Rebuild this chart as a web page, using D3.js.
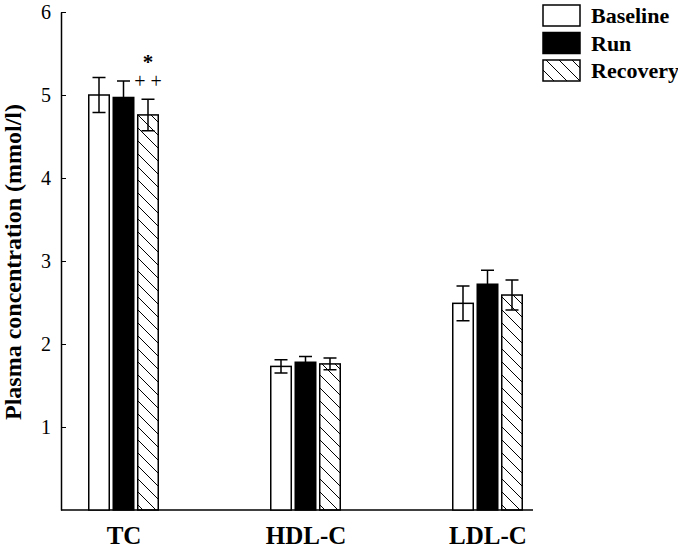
<!DOCTYPE html>
<html>
<head>
<meta charset="utf-8">
<script src="https://cdn.jsdelivr.net/npm/d3@7"></script>
<style>
  body { margin: 0; background: #fff; }
  text { font-family: "Liberation Serif", "Times New Roman", serif; }
</style>
</head>
<body>
<div id="chart"></div>
<script>
// data
const categories = ["TC", "HDL-C", "LDL-C"];
const series = ["Baseline", "Run", "Recovery"];
const baseline = [5.00, 1.73, 2.49];
const run = [4.97, 1.78, 2.72];
const recovery = [4.76, 1.76, 2.59];
const baselineErr = [0.21, 0.08, 0.21];
const runErr = [0.20, 0.07, 0.17];
const recoveryErr = [0.19, 0.07, 0.18];
const yTicks = [1, 2, 3, 4, 5, 6];

const values = [baseline, run, recovery];
const errors = [baselineErr, runErr, recoveryErr];

const margin = {top: 12, right: 145, bottom: 40, left: 61},
      width = 678 - margin.left - margin.right,
      height = 510 - margin.top;

const svg = d3.select("#chart")
    .append("svg")
    .attr("width", 678)
    .attr("height", 550);

// hatch for Recovery
const defs = svg.append("defs");
defs.append("pattern")
    .attr("id", "hatch")
    .attr("patternUnits", "userSpaceOnUse")
    .attr("width", 13)
    .attr("height", 13)
  .append("path")
    .attr("d", "M0,0L13,13M-2,11L2,15M11,-2L15,2")
    .attr("stroke", "#000")
    .attr("stroke-width", 1);

const fills = ["#fff", "#000", "url(#hatch)"];

const g = svg.append("g")
    .attr("transform", `translate(${margin.left}, ${margin.top})`);

const x = d3.scalePoint()
    .domain(categories)
    .range([62.5, 426.5]);

const xInner = d3.scaleBand()
    .domain(series)
    .range([-34.75, 34.75])
    .paddingInner(0.163);

const y = d3.scaleLinear()
    .domain([0, 6])
    .range([height, 0]);

// Y axis
const yAxis = g.append("g")
    .call(d3.axisLeft(y).tickValues(yTicks).tickFormat(d3.format("d"))
        .tickSizeInner(-5).tickSizeOuter(0).tickPadding(10));
yAxis.select(".domain").attr("stroke-width", 1.5);
yAxis.selectAll(".tick line").attr("stroke-width", 1);
yAxis.selectAll("text")
    .attr("font-size", 20)
    .attr("font-family", "Liberation Serif, serif");

// X axis
const xAxis = g.append("g")
    .attr("transform", `translate(0, ${height})`)
    .call(d3.axisBottom(x).tickSize(0).tickPadding(16));
xAxis.select(".domain").remove();
xAxis.selectAll("text")
    .attr("font-size", 25)
    .attr("font-weight", "bold")
    .attr("font-family", "Liberation Serif, serif");
g.append("line")
    .attr("x1", 0)
    .attr("x2", width)
    .attr("y1", height)
    .attr("y2", height)
    .attr("stroke", "#000")
    .attr("stroke-width", 1.5);

// bars
series.forEach(function(s, i) {
  const grp = g.append("g");
  grp.selectAll("rect")
    .data(categories)
    .join("rect")
    .attr("x", (c) => x(c) + xInner(s))
    .attr("width", xInner.bandwidth())
    .attr("y", (c, j) => y(values[i][j]))
    .attr("height", (c, j) => height - y(values[i][j]))
    .attr("fill", fills[i])
    .attr("stroke", "#000")
    .attr("stroke-width", 1.5);

  // error bars
  const cap = 6.5;
  categories.forEach(function(c, j) {
    const cx = x(c) + xInner(s) + xInner.bandwidth() / 2;
    const hi = y(values[i][j] + errors[i][j]);
    const lo = y(values[i][j] - errors[i][j]);
    grp.append("path")
      .attr("d", `M${cx},${lo}V${hi}M${cx - cap},${hi}H${cx + cap}M${cx - cap},${lo}H${cx + cap}`)
      .attr("fill", "none")
      .attr("stroke", "#000")
      .attr("stroke-width", 1.5);
  });
});

// significance marks over TC Recovery
const rx = x("TC") + xInner("Recovery") + xInner.bandwidth() / 2;
const errTop = y(recovery[0] + recoveryErr[0]);
g.append("text")
    .attr("x", rx)
    .attr("y", errTop - 30)
    .attr("text-anchor", "middle")
    .attr("font-size", 21)
    .attr("font-weight", "bold")
    .text("*");
g.append("text")
    .attr("x", rx)
    .attr("y", errTop - 11)
    .attr("text-anchor", "middle")
    .attr("font-size", 20)
    .attr("fill", "#000")
    .text("+ +");

// y label
svg.append("text")
    .attr("transform", "rotate(-90)")
    .attr("x", -262)
    .attr("y", 21)
    .attr("text-anchor", "middle")
    .attr("font-size", 24)
    .attr("font-weight", "bold")
    .text("Plasma concentration (mmol/l)");

// legend
const legend = svg.append("g")
    .attr("transform", "translate(543, 5)");
series.forEach(function(s, i) {
  legend.append("rect")
    .attr("x", 0)
    .attr("y", i * 27.5)
    .attr("width", 37)
    .attr("height", 21)
    .attr("fill", fills[i])
    .attr("stroke", "#000")
    .attr("stroke-width", 1.5);
  legend.append("text")
    .attr("x", 48)
    .attr("y", i * 27.5 + 18)
    .attr("font-size", 22)
    .attr("font-weight", "bold")
    .text(s);
});
</script>
</body>
</html>
